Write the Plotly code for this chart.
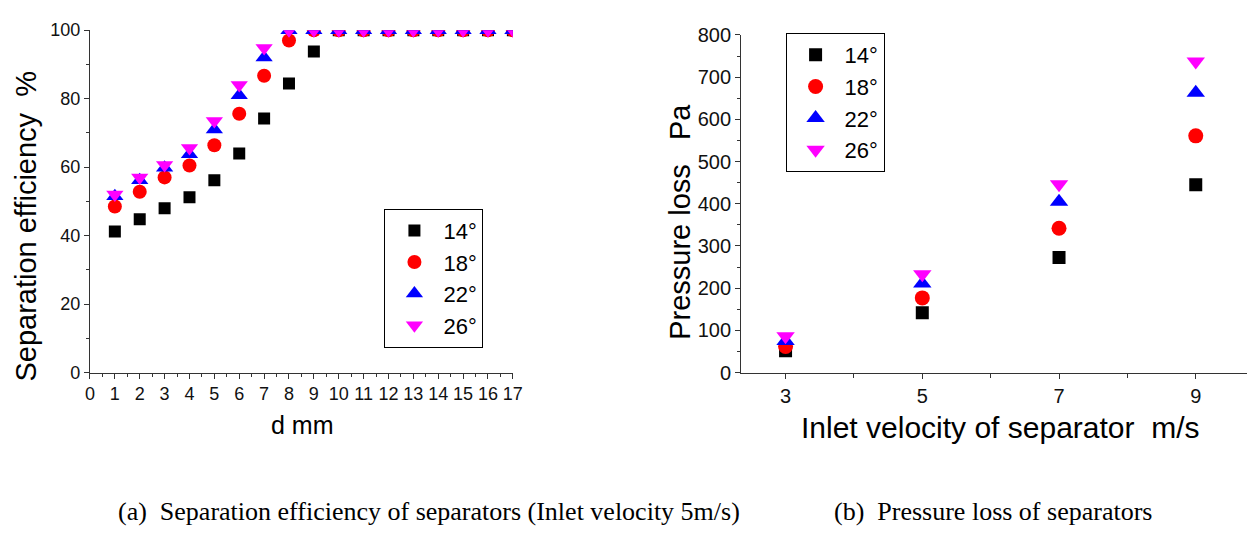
import plotly.graph_objects as go

angles = ["14°", "18°", "22°", "26°"]
colors = ["#000000", "#FF0000", "#0000FF", "#FF00FF"]
symbols = ["square", "circle", "triangle-up", "triangle-down"]
sizes = [12, 14, 15, 15]

d_mm = list(range(1, 18))
eff_14 = [41.2, 44.8, 48.0, 51.2, 56.2, 64.0, 74.2, 84.4, 93.8] + [100] * 8
eff_18 = [48.5, 52.8, 57.0, 60.5, 66.4, 75.6, 86.7, 97.0] + [100] * 9
eff_22 = [51.5, 56.2, 59.8, 63.8, 71.0, 81.0, 92.0] + [100] * 10
eff_26 = [52.0, 57.0, 60.6, 65.6, 73.5, 84.0, 94.8] + [100] * 10

velocity = [3, 5, 7, 9]
dp_14 = [52, 142, 273, 445]
dp_18 = [62, 177, 342, 561]
dp_22 = [75, 211, 405, 663]
dp_26 = [86, 233, 446, 737]

eff_all = [eff_14, eff_18, eff_22, eff_26]
dp_all = [dp_14, dp_18, dp_22, dp_26]

fig = go.Figure()
for i in range(4):
    fig.add_trace(go.Scatter(
        x=d_mm, y=eff_all[i], mode="markers", name=angles[i],
        marker=dict(symbol=symbols[i], color=colors[i], size=sizes[i], line=dict(width=0)),
        xaxis="x", yaxis="y", legend="legend"))
for i in range(4):
    fig.add_trace(go.Scatter(
        x=velocity, y=dp_all[i], mode="markers", name=angles[i],
        marker=dict(symbol=symbols[i], color=colors[i], size=sizes[i] + 1, line=dict(width=0)),
        xaxis="x2", yaxis="y2", legend="legend2"))

W, H = 1259, 538
def px(x):
    return x / W
def py(y):
    return 1 - y / H

axcommon = dict(showline=True, linecolor="#333333", linewidth=1, ticks="outside",
                ticklen=5, tickcolor="#333333", showgrid=False, zeroline=False,
                mirror=False)
FONT = "Liberation Sans, Arial"
SERIF = "Liberation Serif, Times New Roman"
tickfont_a = dict(family=FONT, size=18, color="#111111")
tickfont_b = dict(family=FONT, size=20, color="#111111")

def ann(text, x, y, size, angle=0, family=FONT):
    return dict(text=text, x=px(x), y=py(y), xref="paper", yref="paper",
                showarrow=False, textangle=angle, xanchor="center", yanchor="middle",
                font=dict(family=family, size=size, color="#000000"))

fig.update_layout(
    width=W, height=H, margin=dict(l=0, r=0, t=0, b=0),
    paper_bgcolor="white", plot_bgcolor="white",
    font=dict(family=FONT, color="#111111"),
    xaxis=dict(domain=[px(86), px(514)], range=[0, 17], dtick=1, anchor="y",
               tickfont=tickfont_a,
               minor=dict(dtick=0.5, ticks="outside", ticklen=3, tickcolor="#333333"),
               **axcommon),
    yaxis=dict(domain=[py(377), py(20)], range=[0, 100], dtick=20, anchor="x",
               tickfont=tickfont_a,
               minor=dict(dtick=10, ticks="outside", ticklen=3, tickcolor="#333333"),
               **axcommon),
    xaxis2=dict(domain=[px(745), px(1257)], range=[2.35, 9.75], tickvals=[3, 5, 7, 9], anchor="y2",
                tickfont=tickfont_b,
                minor=dict(tickvals=[4, 6, 8], ticks="outside", ticklen=4, tickcolor="#333333"),
                **axcommon),
    yaxis2=dict(domain=[py(377), py(25)], range=[0, 800], dtick=100, anchor="x2",
                tickfont=tickfont_b,
                minor=dict(dtick=50, ticks="outside", ticklen=3, tickcolor="#333333"),
                **axcommon),
    legend=dict(x=px(384), y=py(206), xanchor="left", yanchor="top",
                bordercolor="#000000", borderwidth=1, bgcolor="white",
                font=dict(size=22, family=FONT, color="#000000"),
                itemwidth=48, tracegroupgap=0),
    legend2=dict(x=px(790), y=py(23), xanchor="left", yanchor="top",
                 bordercolor="#000000", borderwidth=1, bgcolor="white",
                 font=dict(size=22, family=FONT, color="#000000"),
                 itemwidth=48, tracegroupgap=0),
    showlegend=True,
    annotations=[
        ann("Separation efficiency  %", 21, 224, 29, angle=-90),
        ann("d mm", 301, 432, 25),
        ann("Pressure loss   Pa", 683, 220, 29, angle=-90),
        ann("Inlet velocity of separator  m/s", 1007, 434, 30),
        ann("(a)  Separation efficiency of separators (Inlet velocity 5m/s)", 429, 522, 26, family=SERIF),
        ann("(b)  Pressure loss of separators", 1000, 522, 26, family=SERIF),
    ],
)

fig.write_html("out.html")
